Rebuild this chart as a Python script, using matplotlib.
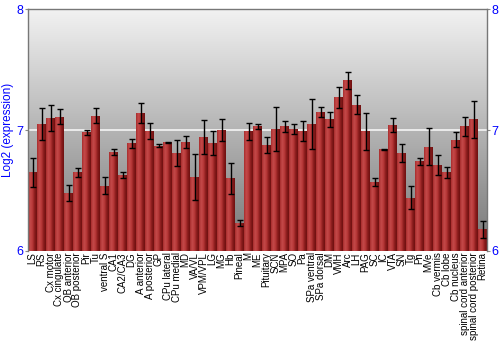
import numpy as np
import matplotlib
matplotlib.use("Agg")
import matplotlib.pyplot as plt
from matplotlib.colors import LinearSegmentedColormap

regions = ["LS", "RS", "Cx motor", "Cx cingulate", "OB anterior", "OB posterior",
           "Pir", "Tu", "ventral S", "CA1", "CA2/CA3", "DG", "A anterior",
           "A posterior", "GP", "CPu lateral", "CPu medial", "MD", "VA/VL",
           "VPM/VPL", "LG", "MG", "Hb", "Pineal", "M", "ME", "Pituitary", "SCN",
           "MPA", "SO", "Pa", "SPa ventral", "SPa dorsal", "DM", "VMH", "Arc",
           "LH", "PAG", "SC", "IC", "VTA", "SN", "Tg", "Pn", "MVe", "Cb vermis",
           "Cb lobe", "Cb nucleus", "spinal cord anterior", "spinal cord posterior",
           "Retina"]

expression = [6.65, 7.05, 7.10, 7.11, 6.48, 6.65, 6.98, 7.12, 6.54, 6.82,
              6.63, 6.89, 7.14, 6.99, 6.87, 6.90, 6.81, 6.90, 6.61, 6.94,
              6.89, 7.00, 6.60, 6.23, 6.99, 7.03, 6.88, 7.01, 7.03, 7.01,
              6.99, 7.05, 7.15, 7.09, 7.27, 7.41, 7.21, 6.99, 6.57, 6.84,
              7.04, 6.81, 6.44, 6.74, 6.86, 6.71, 6.65, 6.92, 7.03, 7.09,
              6.18]

error = [0.12, 0.13, 0.11, 0.06, 0.066, 0.037, 0.022, 0.063, 0.069, 0.023,
         0.025, 0.039, 0.085, 0.065, 0.014, 0.004, 0.105, 0.048, 0.19, 0.14,
         0.10, 0.094, 0.128, 0.023, 0.07, 0.02, 0.066, 0.18, 0.045, 0.04,
         0.083, 0.21, 0.039, 0.062, 0.087, 0.072, 0.079, 0.153, 0.036, 0.006,
         0.056, 0.078, 0.094, 0.026, 0.153, 0.084, 0.045, 0.062, 0.08, 0.153,
         0.07]

yticks = [6, 7, 8]

plt.rcParams['font.family'] = ['Liberation Sans', 'DejaVu Sans']

fig = plt.figure(figsize=(5, 3.5), dpi=100)
ax = fig.add_axes([0.056, 0.283, 0.918, 0.691])

x = np.arange(len(regions))

# grey background gradient, light at top
bg = LinearSegmentedColormap.from_list("bg", ["#767676", "#f2f2f2"])
ax.imshow(np.linspace(0, 1, 256).reshape(-1, 1), cmap=bg, aspect="auto",
          extent=[0, 1, 0, 1], transform=ax.transAxes, origin="lower", zorder=0)

ax.axhline(7, color="#f4f4f4", lw=1.2, zorder=1)

bars = ax.bar(x, [v - 6 for v in expression], bottom=6, width=0.9,
              color="#b03434", zorder=2, linewidth=0)

# horizontal shading on each bar
red = LinearSegmentedColormap.from_list("red", ["#a82c2c", "#c44a4a", "#b83838", "#8a1c1c", "#6e1010"])
grad = np.linspace(0, 1, 64).reshape(1, -1)
for b in bars:
    im = ax.imshow(grad, cmap=red, aspect="auto", zorder=2.5,
                   extent=[b.get_x(), b.get_x() + b.get_width(), b.get_y(), b.get_y() + b.get_height()])
    im.set_clip_path(b)

ax.errorbar(x, expression, yerr=error, fmt="none", ecolor="black",
            elinewidth=1, capsize=2, capthick=1, zorder=3)

ax.set_xlim(-0.5, len(regions) - 0.5)
ax.set_ylim(6, 8)
ax.set_yticks(yticks)
ax.set_yticklabels([str(t) for t in yticks])
ax.tick_params(axis="y", colors="#888888", labelcolor="blue", labelsize=9,
               length=2, pad=1, right=True, labelright=True)
ax.set_xticks(x)
ax.set_xticklabels(regions, rotation=90, fontsize=7)
ax.tick_params(axis="x", length=0, pad=1)
ax.set_ylabel("Log2 (expression)", color="blue", fontsize=8.5, labelpad=2)

for s in ax.spines.values():
    s.set_color("#777777")
    s.set_linewidth(1)
ax.spines["bottom"].set_visible(False)

fig.savefig("out.png", dpi=100)
